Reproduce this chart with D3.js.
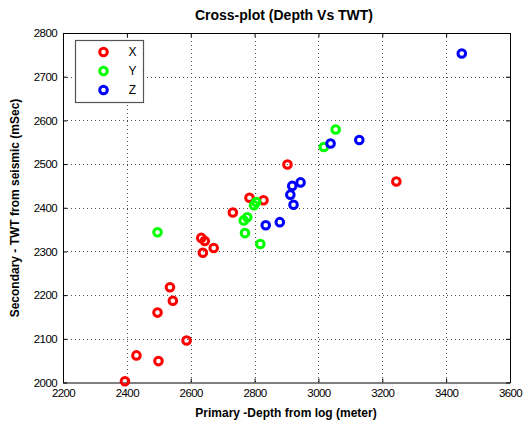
<!DOCTYPE html>
<html>
<head>
<meta charset="utf-8">
<script src="https://cdn.jsdelivr.net/npm/d3@7"></script>
<style>
  body { margin: 0; background: #fff; }
  svg text { font-family: Arial, "Liberation Sans", sans-serif; }
</style>
</head>
<body>
<svg id="chart" width="524" height="426"></svg>
<script>
// depth (m), twt (ms) per series
var xDepth = [2394, 2430, 2499, 2587, 2496, 2544, 2535, 2633, 2644, 2638, 2672, 2732, 2784, 2828, 2903, 3244];
var xTwt   = [2003, 2062, 2049, 2096, 2160, 2187, 2218, 2331, 2324, 2297, 2308, 2389, 2423, 2417, 2499, 2460];
var yDepth = [2496, 3054, 3017, 2805, 2798, 2777, 2766, 2770, 2818];
var yTwt   = [2344, 2579, 2539, 2413, 2406, 2378, 2371, 2342, 2317];
var zDepth = [3128, 3038, 2944, 2918, 2912, 2922, 2879, 2835, 3449];
var zTwt   = [2555, 2547, 2458, 2450, 2430, 2407, 2367, 2360, 2753];
var seriesNames = ['X', 'Y', 'Z'];
var seriesColors = ['#ff0000', '#00ff00', '#0000ff'];
var xTicks = [2200, 2400, 2600, 2800, 3000, 3200, 3400, 3600];
var yTicks = [2000, 2100, 2200, 2300, 2400, 2500, 2600, 2700, 2800];

var svg = d3.select('#chart');
var pL = 63, pR = 510, pT = 33, pB = 382.5;

var x = d3.scaleLinear().domain([2200, 3600]).range([pL, pR]);
var y = d3.scaleLinear().domain([2000, 2800]).range([pB, pT]);

svg.append('rect').attr('width', 524).attr('height', 426).attr('fill', '#fff');

// grid
var grid = svg.append('g').attr('stroke', '#222').attr('stroke-width', 1)
    .attr('stroke-dasharray', '1,3').attr('opacity', 0.8);
xTicks.slice(1, -1).forEach(function (t) {
    grid.append('line').attr('x1', Math.round(x(t)) + 0.5).attr('x2', Math.round(x(t)) + 0.5)
        .attr('y1', pT).attr('y2', pB);
});
yTicks.slice(1, -1).forEach(function (t) {
    grid.append('line').attr('y1', Math.round(y(t)) + 0.5).attr('y2', Math.round(y(t)) + 0.5)
        .attr('x1', pL).attr('x2', pR);
});

// axes (ticks inside, box all round)
var tl = 4, fmt = d3.format('d');
var bottomAxis = d3.axisBottom(x).tickValues(xTicks).tickFormat(fmt).tickSizeInner(-tl).tickSizeOuter(0).tickPadding(8);
var leftAxis = d3.axisLeft(y).tickValues(yTicks).tickFormat(fmt).tickSizeInner(-tl).tickSizeOuter(0).tickPadding(8);
var gx = svg.append('g').attr('transform', 'translate(0,' + pB + ')').call(bottomAxis);
var gy = svg.append('g').attr('transform', 'translate(' + pL + ',0)').call(leftAxis);
svg.append('g').attr('transform', 'translate(0,' + pT + ')')
    .call(d3.axisTop(x).tickValues(xTicks).tickSizeInner(-tl).tickSizeOuter(0).tickFormat(''));
svg.append('g').attr('transform', 'translate(' + pR + ',0)')
    .call(d3.axisRight(y).tickValues(yTicks).tickSizeInner(-tl).tickSizeOuter(0).tickFormat(''));
svg.selectAll('.domain').attr('stroke', '#000');
svg.selectAll('.tick line').attr('stroke', '#000');
svg.selectAll('.tick text').attr('font-size', 11.5).attr('fill', '#000')
    .style('font-family', 'Arial, "Liberation Sans", sans-serif').attr('letter-spacing', -0.6);
gx.selectAll('.tick text').attr('dy', '0.55em');
gy.selectAll('.tick text').attr('dx', '2px');

// points
var data = [
    d3.zip(xDepth, xTwt),
    d3.zip(yDepth, yTwt),
    d3.zip(zDepth, zTwt)
];
data.forEach(function (pts, i) {
    svg.append('g').selectAll('circle').data(pts).enter().append('circle')
        .attr('cx', function (d) { return x(d[0]); })
        .attr('cy', function (d) { return y(d[1]); })
        .attr('r', 3.8)
        .attr('fill', 'none')
        .attr('stroke', seriesColors[i])
        .attr('stroke-width', 3);
});

// legend
var lg = svg.append('g');
lg.append('rect').attr('x', 75.5).attr('y', 40.5).attr('width', 68).attr('height', 62)
    .attr('fill', '#fff').attr('stroke', '#555').attr('stroke-width', 1.2);
seriesNames.forEach(function (n, i) {
    var ly = 52 + i * 19;
    lg.append('circle').attr('cx', 103.5).attr('cy', ly).attr('r', 3.8)
        .attr('fill', 'none').attr('stroke', seriesColors[i]).attr('stroke-width', 3);
    lg.append('text').attr('x', 132.5).attr('y', ly + 4).attr('text-anchor', 'middle')
        .attr('font-size', 12).text(n);
});

// titles
svg.append('text').attr('x', 284).attr('y', 20).attr('text-anchor', 'middle')
    .attr('font-size', 14).attr('font-weight', 'bold').text('Cross-plot (Depth Vs TWT)');
svg.append('text').attr('x', 286).attr('y', 417).attr('text-anchor', 'middle')
    .attr('font-size', 12).attr('font-weight', 'bold').text('Primary -Depth from log (meter)');
svg.append('text').attr('transform', 'translate(19,208) rotate(-90)').attr('text-anchor', 'middle')
    .attr('font-size', 12).attr('font-weight', 'bold').text('Secondary - TWT from seismic (mSec)');
</script>
</body>
</html>
